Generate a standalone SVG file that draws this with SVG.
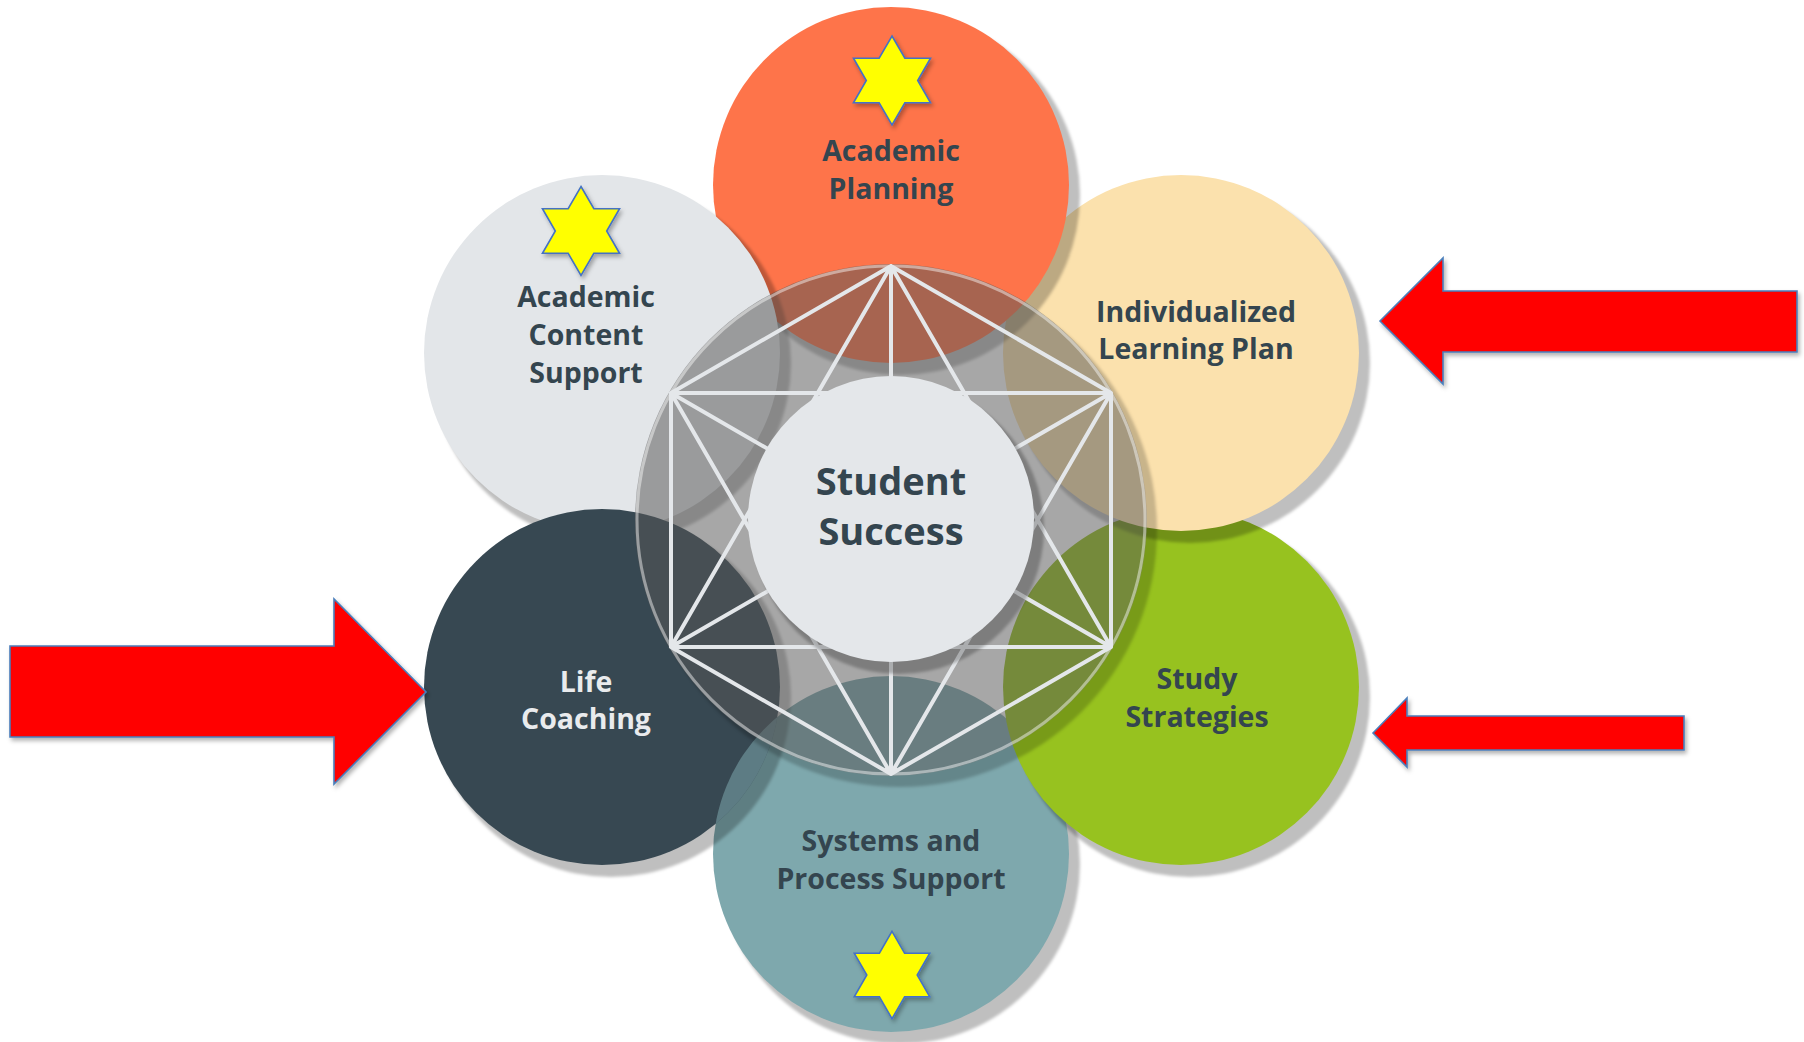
<svg xmlns="http://www.w3.org/2000/svg" width="1804" height="1042" viewBox="0 0 1804 1042">
<defs>
<style>
.shadow{fill:#000;fill-opacity:0.25;filter:url(#blur)}
.lbl{font-family:"Open Sans","Liberation Sans",sans-serif;font-weight:700;font-size:28.5px;fill:#34454F;text-anchor:middle}
.lbl-light{fill:#E9EBED}
.big{font-size:38px}
.arrow{fill:#FF0000;stroke:#4A7EBB;stroke-width:1.6;stroke-linejoin:miter;filter:url(#ds)}
.star{fill:#FFFF00;stroke:#4472C4;stroke-width:1.6;filter:url(#ds)}
.web{fill:none;stroke:#E4E7EA;stroke-width:4;stroke-linejoin:round;stroke-linecap:round}
</style>
<filter id="blur" x="-10%" y="-10%" width="120%" height="120%"><feGaussianBlur stdDeviation="1.5"/></filter>
<filter id="ds" x="-20%" y="-20%" width="140%" height="140%"><feDropShadow dx="2" dy="3" stdDeviation="2" flood-color="#000" flood-opacity="0.3"/></filter>
<clipPath id="darkClip"><circle cx="602" cy="687" r="178"/></clipPath>
<mask id="ringOut"><rect width="1804" height="1042" fill="#fff"/><circle cx="891" cy="520" r="256" fill="#000"/></mask>
<path id="star" d="M0,-44.5 L12.85,-22.25 L38.54,-22.25 L25.69,0 L38.54,22.25 L12.85,22.25 L0,44.5 L-12.85,22.25 L-38.54,22.25 L-25.69,0 L-38.54,-22.25 L-12.85,-22.25 Z"/>
</defs>
<rect width="1804" height="1042" fill="#FFFFFF"/>

<g id="systems-process-support">
<circle class="shadow" cx="900" cy="864" r="180"/>
<circle cx="891" cy="854" r="178" fill="#7EA8AD"/>
</g>
<g id="study-strategies">
<circle class="shadow" cx="1190" cy="697" r="180"/>
<circle cx="1181" cy="687" r="178" fill="#97C21F"/>
</g>
<g id="individualized-learning-plan">
<circle class="shadow" cx="1190" cy="363" r="180"/>
<circle cx="1181" cy="353" r="178" fill="#FBE1AD"/>
</g>
<g id="academic-planning">
<circle class="shadow" cx="900" cy="195" r="180"/>
<circle cx="891" cy="185" r="178" fill="#FE744A"/>
</g>
<g id="academic-content-support">
<circle class="shadow" cx="611" cy="363" r="180"/>
<circle cx="602" cy="353" r="178" fill="#E3E6E9"/>
</g>
<g id="life-coaching">
<circle class="shadow" cx="611" cy="697" r="180"/>
<circle cx="602" cy="687" r="178" fill="#374852"/>
<circle cx="891" cy="854" r="178" fill="#7EA8AD" fill-opacity="0.55" clip-path="url(#darkClip)"/>
</g>

<g id="hub-ring">
<circle cx="900" cy="530" r="257" fill="#000" fill-opacity="0.2" mask="url(#ringOut)" filter="url(#blur)"/>
<circle cx="891" cy="520" r="256" fill="#575757" fill-opacity="0.52"/>
<circle cx="891" cy="520" r="254" fill="none" stroke="#FFFFFF" stroke-opacity="0.45" stroke-width="3"/>
</g>

<g id="connectors">
<path class="web" d="M891,266 L1111,393 L1111,647 L891,774 L671,647 L671,393 Z M891,266 L671,647 L1111,647 Z M891,774 L671,393 L1111,393 Z M891,266 L891,774 M671,393 L1111,647 M671,647 L1111,393"/>
</g>

<g id="student-success">
<circle class="shadow" cx="899" cy="529" r="145"/>
<circle cx="891" cy="519" r="143" fill="#E4E7EA"/>
<text class="lbl big" x="891" y="495">Student</text>
<text class="lbl big" x="891" y="545">Success</text>
</g>

<g id="labels">
<text class="lbl" x="891" y="161">Academic</text>
<text class="lbl" x="891" y="199">Planning</text>
<text class="lbl" x="586" y="307">Academic</text>
<text class="lbl" x="586" y="345">Content</text>
<text class="lbl" x="586" y="383">Support</text>
<text class="lbl" x="1196" y="322">Individualized</text>
<text class="lbl" x="1196" y="359">Learning Plan</text>
<text class="lbl" x="1197" y="689">Study</text>
<text class="lbl" x="1197" y="727">Strategies</text>
<text class="lbl" x="891" y="851">Systems and</text>
<text class="lbl" x="891" y="889">Process Support</text>
<text class="lbl lbl-light" x="586" y="692">Life</text>
<text class="lbl lbl-light" x="586" y="729">Coaching</text>
</g>

<g id="stars">
<use href="#star" class="star" transform="translate(892,80.5)"/>
<use href="#star" class="star" transform="translate(581,231)"/>
<use href="#star" class="star" transform="translate(892,975) scale(0.98)"/>
</g>

<g id="arrows">
<polygon class="arrow" points="10,646 334,646 334,599 426,692 334,784 334,737 10,737"/>
<polygon class="arrow" points="1380,321 1443,258 1443,291 1797,291 1797,352 1443,352 1443,384"/>
<polygon class="arrow" points="1373,733 1407,698 1407,716 1684,716 1684,750 1407,750 1407,767"/>
</g>
</svg>
